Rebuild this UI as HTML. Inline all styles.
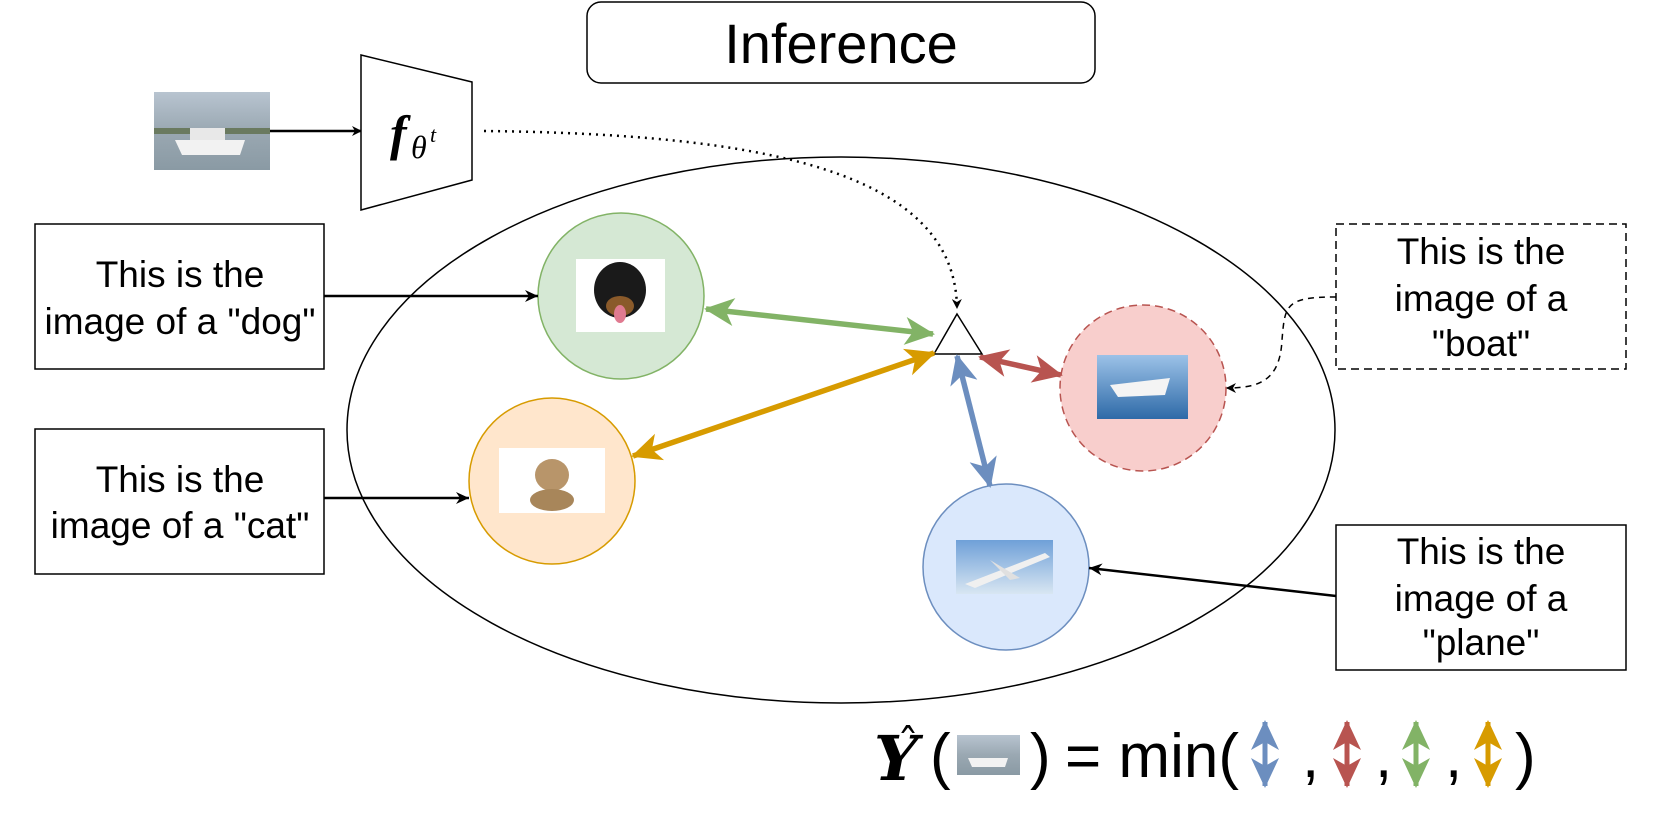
<!DOCTYPE html>
<html><head><meta charset="utf-8"><style>
html,body{margin:0;padding:0;background:#fff;}
svg{display:block;font-family:"Liberation Sans",sans-serif;}
</style></head><body>
<svg width="1661" height="834" viewBox="0 0 1661 834" xmlns="http://www.w3.org/2000/svg">
<defs>
<marker id="ab" markerWidth="10" markerHeight="10" refX="9" refY="5" orient="auto" markerUnits="userSpaceOnUse"><path d="M0,0 L10,5 L0,10 L3,5 z" fill="#000"/></marker>
<marker id="abs" markerWidth="14" markerHeight="14" refX="13" refY="7" orient="auto" markerUnits="userSpaceOnUse"><path d="M0,1 L13,7 L0,13 L4,7 z" fill="#000"/></marker>
<marker id="g" markerWidth="32" markerHeight="32" refX="28" refY="16" orient="auto-start-reverse" markerUnits="userSpaceOnUse"><path d="M0,2 L30,16 L0,30 L8,16 z" fill="#82b366"/></marker>
<marker id="o" markerWidth="32" markerHeight="32" refX="28" refY="16" orient="auto-start-reverse" markerUnits="userSpaceOnUse"><path d="M0,2 L30,16 L0,30 L8,16 z" fill="#d79b00"/></marker>
<marker id="r" markerWidth="32" markerHeight="32" refX="28" refY="16" orient="auto-start-reverse" markerUnits="userSpaceOnUse"><path d="M0,2 L30,16 L0,30 L8,16 z" fill="#b85450"/></marker>
<marker id="b" markerWidth="32" markerHeight="32" refX="28" refY="16" orient="auto-start-reverse" markerUnits="userSpaceOnUse"><path d="M0,2 L30,16 L0,30 L8,16 z" fill="#6c8ebf"/></marker>
<linearGradient id="sea" x1="0" y1="0" x2="0" y2="1"><stop offset="0" stop-color="#b8c4d0"/><stop offset="0.5" stop-color="#9aa8b2"/><stop offset="1" stop-color="#8a9aa4"/></linearGradient>
<linearGradient id="sky" x1="0" y1="0" x2="0" y2="1"><stop offset="0" stop-color="#6fa0d8"/><stop offset="1" stop-color="#d8e6f2"/></linearGradient>
<linearGradient id="bsea" x1="0" y1="0" x2="0" y2="1"><stop offset="0" stop-color="#9cc2e8"/><stop offset="1" stop-color="#2e6aa8"/></linearGradient>
</defs>

<rect x="587" y="2" width="508" height="81" rx="14" fill="#fff" stroke="#000" stroke-width="1.5"/>
<text x="841" y="63" font-size="56" text-anchor="middle">Inference</text>

<rect x="154" y="92" width="116" height="78" fill="url(#sea)"/>
<rect x="154" y="128" width="116" height="6" fill="#6a7a60"/>
<path d="M175,140 L245,140 L240,155 L182,155 z" fill="#f2f2f2"/>
<rect x="190" y="128" width="35" height="12" fill="#e8e8e8"/>
<line x1="270" y1="131" x2="361" y2="131" stroke="#000" stroke-width="2.5" marker-end="url(#ab)"/>

<path d="M361,55 L472,82 L472,180 L361,210 z" fill="#fff" stroke="#000" stroke-width="1.5"/>
<text x="390" y="150" font-family="Liberation Serif,serif" font-style="italic" font-weight="bold" font-size="50">f</text>
<text x="411" y="158" font-family="Liberation Serif,serif" font-style="italic" font-size="32">θ</text>
<text x="430" y="142" font-family="Liberation Serif,serif" font-style="italic" font-size="22">t</text>

<ellipse cx="841" cy="430" rx="494" ry="273" fill="none" stroke="#000" stroke-width="1.5"/>

<path d="M484,131 C760,134 955,170 957,308" fill="none" stroke="#000" stroke-width="2.5" stroke-dasharray="2,5" marker-end="url(#ab)"/>

<circle cx="621" cy="296" r="83" fill="#d5e8d4" stroke="#82b366" stroke-width="1.5"/>
<rect x="576" y="259" width="89" height="73" fill="#fff"/>
<ellipse cx="620" cy="290" rx="26" ry="28" fill="#1a1a1a"/>
<ellipse cx="620" cy="306" rx="14" ry="10" fill="#8a5a2a"/>
<ellipse cx="620" cy="314" rx="6" ry="9" fill="#e07a90"/>

<circle cx="552" cy="481" r="83" fill="#ffe6cc" stroke="#d79b00" stroke-width="1.5"/>
<rect x="499" y="448" width="106" height="65" fill="#fff"/>
<ellipse cx="552" cy="475" rx="17" ry="16" fill="#b8956a"/>
<ellipse cx="552" cy="500" rx="22" ry="11" fill="#a8865a"/>

<circle cx="1143" cy="388" r="83" fill="#f8cecc" stroke="#b85450" stroke-width="1.5" stroke-dasharray="8,5"/>
<rect x="1097" y="355" width="91" height="64" fill="url(#bsea)"/>
<path d="M1110,385 L1170,378 L1165,395 L1118,397 z" fill="#f4f4f4"/>

<circle cx="1006" cy="567" r="83" fill="#dae8fc" stroke="#6c8ebf" stroke-width="1.5"/>
<rect x="956" y="540" width="97" height="54" fill="url(#sky)"/>
<path d="M965,584 L1045,553 L1050,557 L975,588 z" fill="#f0f0f0"/>
<path d="M990,560 L1020,578 L1010,580 z" fill="#e0e0e0"/>

<path d="M957,314 L982,354 L934,354 z" fill="#fff" stroke="#000" stroke-width="1.5"/>

<line x1="706" y1="309" x2="933" y2="334" stroke="#82b366" stroke-width="5.5" marker-start="url(#g)" marker-end="url(#g)"/>
<line x1="633" y1="456" x2="934" y2="353" stroke="#d79b00" stroke-width="5.5" marker-start="url(#o)" marker-end="url(#o)"/>
<line x1="980" y1="357" x2="1061" y2="375" stroke="#b85450" stroke-width="5.5" marker-start="url(#r)" marker-end="url(#r)"/>
<line x1="957" y1="356" x2="990" y2="486" stroke="#6c8ebf" stroke-width="5.5" marker-start="url(#b)" marker-end="url(#b)"/>

<g font-size="37" text-anchor="middle">
<rect x="35" y="224" width="289" height="145" fill="#fff" stroke="#000" stroke-width="1.5"/>
<text x="180" y="287">This is the</text>
<text x="180" y="334">image of a "dog"</text>
<rect x="35" y="429" width="289" height="145" fill="#fff" stroke="#000" stroke-width="1.5"/>
<text x="180" y="492">This is the</text>
<text x="180" y="538">image of a "cat"</text>
<rect x="1336" y="224" width="290" height="145" fill="#fff" stroke="#000" stroke-width="1.5" stroke-dasharray="8,5"/>
<text x="1481" y="264">This is the</text>
<text x="1481" y="311">image of a</text>
<text x="1481" y="356">"boat"</text>
<rect x="1336" y="525" width="290" height="145" fill="#fff" stroke="#000" stroke-width="1.5"/>
<text x="1481" y="564">This is the</text>
<text x="1481" y="611">image of a</text>
<text x="1481" y="655">"plane"</text>
</g>

<line x1="324" y1="296" x2="538" y2="296" stroke="#000" stroke-width="2.5" marker-end="url(#abs)"/>
<line x1="324" y1="498" x2="469" y2="498" stroke="#000" stroke-width="2.5" marker-end="url(#abs)"/>
<line x1="1336" y1="596" x2="1089" y2="568" stroke="#000" stroke-width="2.5" marker-end="url(#abs)"/>
<path d="M1336,297 C1285,297 1285,305 1282,340 C1280,380 1260,388 1227,388" fill="none" stroke="#000" stroke-width="1.5" stroke-dasharray="6,5" marker-end="url(#ab)"/>

<text x="874" y="780" font-family="DejaVu Serif,serif" font-style="italic" font-weight="bold" font-size="62">Y</text>
<text x="897" y="760" font-family="DejaVu Serif,serif" font-size="44">ˆ</text>
<text x="930" y="777" font-size="62">(</text>
<rect x="957" y="735" width="63" height="40" fill="url(#sea)"/>
<path d="M968,758 L1008,758 L1005,767 L972,767 z" fill="#f2f2f2"/>
<text x="1030" y="777" font-size="62">)</text>
<text x="1065" y="777" font-size="62">= min(</text>
<g stroke-width="5">
<line x1="1265" y1="722" x2="1265" y2="786" stroke="#6c8ebf" marker-start="url(#b)" marker-end="url(#b)"/>
<line x1="1347" y1="722" x2="1347" y2="786" stroke="#b85450" marker-start="url(#r)" marker-end="url(#r)"/>
<line x1="1416" y1="722" x2="1416" y2="786" stroke="#82b366" marker-start="url(#g)" marker-end="url(#g)"/>
<line x1="1488" y1="722" x2="1488" y2="786" stroke="#d79b00" marker-start="url(#o)" marker-end="url(#o)"/>
</g>
<text x="1302" y="777" font-size="62">,</text>
<text x="1375" y="777" font-size="62">,</text>
<text x="1445" y="777" font-size="62">,</text>
<text x="1515" y="777" font-size="62">)</text>
</svg>
</body></html>
